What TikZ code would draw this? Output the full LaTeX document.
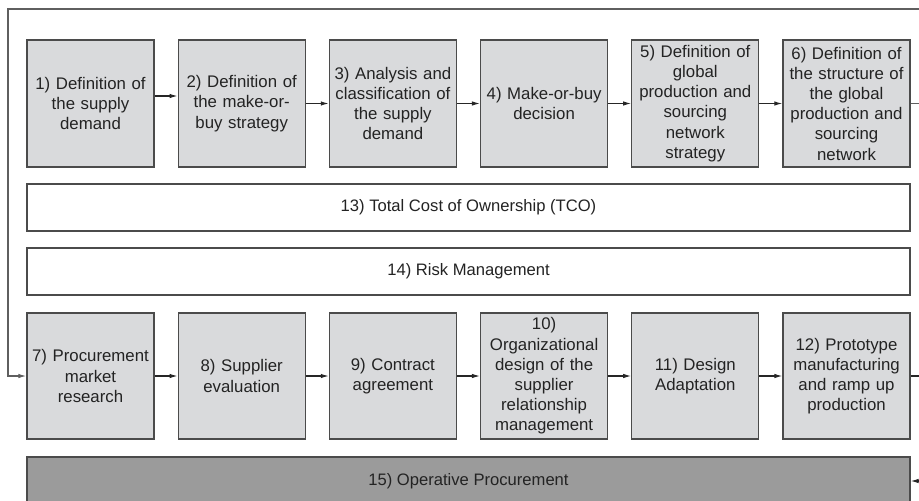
\documentclass[tikz,border=0pt]{standalone}
\usepackage{fontspec}
\setmainfont{Liberation Sans}
\usetikzlibrary{arrows.meta}
\definecolor{boxfill}{RGB}{217,218,220}
\definecolor{opfill}{RGB}{155,155,155}
\definecolor{boxline}{RGB}{75,75,75}
\definecolor{txt}{RGB}{35,35,35}
\definecolor{frameline}{RGB}{95,95,95}
\begin{document}
\begin{tikzpicture}[x=1pt,y=-1pt,
  stepbox/.style={draw=boxline, line width=1.3pt, fill=boxfill,
    minimum width=127pt, minimum height=127pt, inner sep=0pt,
    align=center, text width=124pt,
    font=\fontsize{16.8}{20.2}\selectfont, text=txt},
  band/.style={draw=boxline, line width=1.3pt, fill=white,
    minimum width=883pt, minimum height=47pt, inner sep=0pt,
    font=\fontsize{16.6}{20}\selectfont, text=txt},
  flow/.style={draw=black!85, line width=1.1pt, -{Latex[length=8pt,width=4.5pt]}},
  loopline/.style={draw=frameline, line width=1.2pt, -{Latex[length=8pt,width=4.5pt]}}
]
\useasboundingbox (0,0) rectangle (919,501);
\clip (0,0) rectangle (919,501);

% row 1
\node[stepbox] (b1) at (90.5,103.5) {1) Definition of\\ the supply\\ demand};
\node[stepbox] (b2) at (241.7,103.5) {2) Definition of\\ the make-or-\\ buy strategy};
\node[stepbox] (b3) at (392.9,103.5) {3) Analysis and\\ classification of\\ the supply\\ demand};
\node[stepbox] (b4) at (544.1,103.5) {4) Make-or-buy\\ decision};
\node[stepbox] (b5) at (695.3,103.5) {5) Definition of\\ global\\ production and\\ sourcing\\ network\\ strategy};
\node[stepbox] (b6) at (846.5,103.5) {6) Definition of\\ the structure of\\ the global\\ production and\\ sourcing\\ network};

% bands
\node[band] (b13) at (468.5,207.5) {13) Total Cost of Ownership (TCO)};
\node[band] (b14) at (468.5,271.5) {14) Risk Management};

% row 2
\node[stepbox, minimum height=126pt] (b7) at (90.5,376) {7) Procurement\\ market\\ research};
\node[stepbox, minimum height=126pt] (b8) at (241.7,376) {8) Supplier\\ evaluation};
\node[stepbox, minimum height=126pt] (b9) at (392.9,376) {9) Contract\\ agreement};
\node[stepbox, minimum height=126pt] (b10) at (544.1,376) {10)\\ Organizational\\ design of the\\ supplier\\ relationship\\ management};
\node[stepbox, minimum height=126pt] (b11) at (695.3,376) {11) Design\\ Adaptation};
\node[stepbox, minimum height=126pt] (b12) at (846.5,376) {12) Prototype\\ manufacturing\\ and ramp up\\ production};

% operative procurement
\node[band, fill=opfill, minimum height=48pt] (b15) at (468.5,481) {15) Operative Procurement};

% connectors row 1
\draw[flow] ([yshift=7.5pt]b1.east) -- ([yshift=7.5pt]b1.east -| b2.west);
\draw[flow] (b2.east) -- (b3.west);
\draw[flow] (b3.east) -- (b4.west);
\draw[flow] (b4.east) -- (b5.west);
\draw[flow] (b5.east) -- (b6.west);

% connectors row 2
\draw[flow] (b7.east) -- (b8.west);
\draw[flow] (b8.east) -- (b9.west);
\draw[flow] (b9.east) -- (b10.west);
\draw[flow] (b10.east) -- (b11.west);
\draw[flow] (b11.east) -- (b12.west);

% feedback loop from 6 to 7
\coordinate (r1) at (926,103.5);
\coordinate (tl) at (8,9);
\draw[loopline] (b6.east) -- (r1) |- (tl) |- (b7.west);

% from 12 to 15
\coordinate (r2) at (926,376);
\draw[flow] (b12.east) -- (r2) |- (b15.east);
\end{tikzpicture}
\end{document}
